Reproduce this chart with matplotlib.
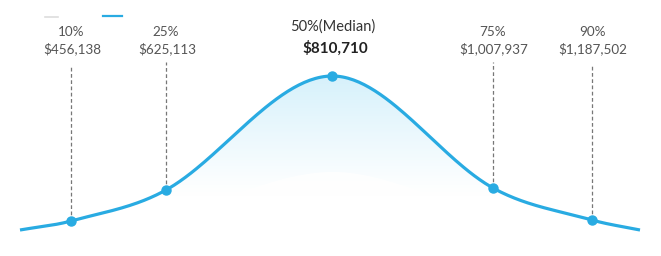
import numpy as np
import matplotlib.pyplot as plt
from matplotlib.patches import Polygon

# percentile markers
pct_labels = ['10%', '25%', '50%(Median)', '75%', '90%']
salaries = [456138, 625113, 810710, 1007937, 1187502]
pct_x = [71, 166, 332, 493, 592]
pct_h = [9, 40, 154, 42, 10]
# curve runs out to the tails
tail_x = [20, 640]
tail_h = [0, 0]

LINE = '#29abe2'
GREY = '#555555'


def hermite_curve(xs, ys, n=60):
    xs = np.asarray(xs, float)
    ys = np.asarray(ys, float)
    m = np.zeros_like(ys)
    m[0] = (ys[1] - ys[0]) / (xs[1] - xs[0])
    m[-1] = (ys[-1] - ys[-2]) / (xs[-1] - xs[-2])
    for i in range(1, len(xs) - 1):
        m[i] = (ys[i + 1] - ys[i - 1]) / (xs[i + 1] - xs[i - 1])
    outx, outy = [], []
    for i in range(len(xs) - 1):
        h = xs[i + 1] - xs[i]
        t = np.linspace(0, 1, n, endpoint=False)
        h00 = 2 * t**3 - 3 * t**2 + 1
        h10 = t**3 - 2 * t**2 + t
        h01 = -2 * t**3 + 3 * t**2
        h11 = t**3 - t**2
        outx.append(xs[i] + t * h)
        outy.append(h00 * ys[i] + h10 * h * m[i] + h01 * ys[i + 1] + h11 * h * m[i + 1])
    outx.append([xs[-1]])
    outy.append([ys[-1]])
    return np.concatenate(outx), np.concatenate(outy)


xs = [tail_x[0]] + pct_x + [tail_x[1]]
ys = [tail_h[0]] + pct_h + [tail_h[1]]
cx, cy = hermite_curve(xs, ys)

plt.rcParams['font.family'] = ['Lato', 'DejaVu Sans']
fig = plt.figure(figsize=(6.61, 2.56), dpi=100)
ax = fig.add_axes([0, 0, 1, 1])
ax.set_xlim(0, 661)
ax.set_ylim(-26, 230)
ax.axis('off')

# gradient fill under the curve
top = max(pct_h)
grad = np.linspace(0, 1, 256)[:, None]
c_top = np.array([0.84, 0.945, 0.985])
c_bot = np.array([1.0, 1.0, 1.0])
frac = np.clip((grad - 0.22) / 0.78, 0, 1) ** 1.1
img = c_bot + (c_top - c_bot) * frac
img = np.repeat(img[:, None, :], 2, axis=1)
poly = Polygon(np.column_stack([np.r_[cx, cx[-1], cx[0]], np.r_[cy, 0, 0]]),
               closed=True, facecolor='none', edgecolor='none')
ax.add_patch(poly)
im = ax.imshow(img, extent=[cx[0], cx[-1], 0, top], origin='lower',
               aspect='auto', zorder=1, interpolation='bilinear')
im.set_clip_path(poly)
# paler inner bump
ax.fill_between(cx, 0, cy * 0.38, color='white', alpha=0.8, zorder=1.5, lw=0)

ax.plot(cx, cy, color=LINE, lw=2.3, zorder=3, solid_capstyle='butt')
ax.plot(pct_x, pct_h, 'o', color=LINE, ms=6.5, zorder=4)

for i, (lab, val, x, h) in enumerate(zip(pct_labels, salaries, pct_x, pct_h)):
    money = '${:,}'.format(val)
    if i == 2:
        ax.text(x + 1, 230 - 27, lab, ha='center', va='center',
                fontsize=10.5, color='#333333')
        ax.text(x + 3, 230 - 48, money, ha='center', va='center',
                fontsize=11, color='#222222', fontweight='bold')
        continue
    ax.text(x, 230 - 32, lab, ha='center', va='center', fontsize=9.7, color=GREY)
    ax.text(x + 1, 230 - 49, money, ha='center', va='center', fontsize=9.7, color=GREY)
    ytop = 230 - (62 if i in (1, 3) else 65)
    ax.plot([x, x], [h, ytop], color='#777777', lw=0.9, ls=(0, (3, 2)), zorder=2)

# clipped legend remnants at the top
ax.plot([45, 58], [230 - 17, 230 - 17], color='#dddddd', lw=1.2)
ax.plot([103, 122], [230 - 16, 230 - 16], color=LINE, lw=1.6)

fig.savefig('out.png', dpi=100)
